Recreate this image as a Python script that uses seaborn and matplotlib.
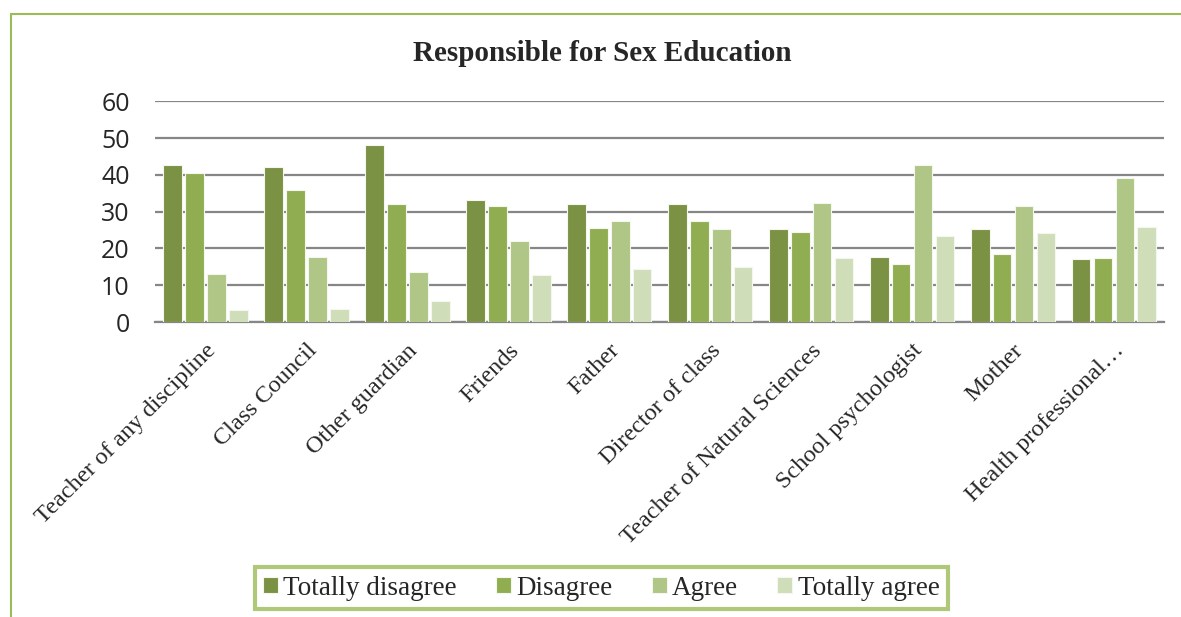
import matplotlib
matplotlib.use("Agg")
import matplotlib.pyplot as plt
from matplotlib.lines import Line2D
import seaborn as sns
import pandas as pd

categories = ["Teacher of any discipline", "Class Council", "Other guardian", "Friends",
              "Father", "Director of class", "Teacher of Natural Sciences",
              "School psychologist", "Mother", "Health professional\u2026"]
series = ["Totally disagree", "Disagree", "Agree", "Totally agree"]
totally_disagree = [42.7, 42.2, 48.1, 33.1, 32.1, 32.1, 25.3, 17.8, 25.3, 17.0]
disagree = [40.5, 35.9, 32.1, 31.6, 25.6, 27.4, 24.6, 15.7, 18.5, 17.5]
agree = [13.0, 17.8, 13.7, 22.1, 27.4, 25.2, 32.4, 42.7, 31.6, 39.2]
totally_agree = [3.4, 3.6, 5.6, 12.7, 14.5, 14.9, 17.3, 23.3, 24.1, 25.8]
yticks = [0, 10, 20, 30, 40, 50, 60]
colors = ["#7b9143", "#90ad52", "#afc686", "#d0ddb9"]

values = [totally_disagree, disagree, agree, totally_agree]
rows = []
for s, vals in zip(series, values):
    for c, v in zip(categories, vals):
        rows.append({"Category": c, "Series": s, "Value": v})
df = pd.DataFrame(rows)

sns.set_style("white")
fig = plt.figure(figsize=(11.81, 6.17), dpi=100)
ax = fig.add_axes([0.131, 0.478, 0.855, 0.358])

sns.barplot(data=df, x="Category", y="Value", hue="Series", order=categories,
            hue_order=series, palette=colors, saturation=1, width=0.87, gap=0.14,
            edgecolor="#f4f7ee", linewidth=0.8, ax=ax, legend=True, zorder=3)

ax.set_ylim(0, 60)
ax.set_yticks(yticks)
ax.set_yticklabels([str(t) for t in yticks], fontsize=18, family="Open Sans")
ax.yaxis.grid(True, color="#868686", linewidth=1.6, zorder=0)
ax.set_axisbelow(True)
for side in ["left", "right", "top"]:
    ax.spines[side].set_visible(False)
ax.spines["bottom"].set_color("#868686")
ax.spines["bottom"].set_linewidth(1.6)
ax.tick_params(axis="y", length=0, pad=18)
ax.tick_params(axis="x", length=0, pad=13)
ax.set_xlim(-0.5, len(categories) - 0.5)
ax.set_xticks(range(len(categories)))
ax.set_xticklabels(categories, rotation=45, ha="right", rotation_mode="anchor",
                   fontsize=17.5, family="Liberation Serif")
ax.set_xlabel("")
ax.set_ylabel("")

fig.text(0.51, 0.914, "Responsible for Sex Education", ha="center", va="center",
         fontsize=21, fontweight="bold", family="Liberation Serif")

h, l = ax.get_legend_handles_labels()
ax.legend_.remove()
leg = fig.legend(h, l, loc="center", bbox_to_anchor=(0.509, 0.047), ncol=4,
                 frameon=True, fancybox=False, prop={"family": "Liberation Serif", "size": 19.5},
                 handlelength=0.55, handleheight=0.55, handletextpad=0.2, columnspacing=1.45,
                 borderpad=0.3, borderaxespad=0)
leg.get_frame().set_edgecolor("#9bbb59")
leg.get_frame().set_linewidth(3)

# outer chart border (green), top and left visible
fig.add_artist(Line2D([11 / 1181, 1.0], [1 - 14 / 617, 1 - 14 / 617],
                      transform=fig.transFigure, color="#9bbb59", linewidth=1.5))
fig.add_artist(Line2D([11 / 1181, 11 / 1181], [0.0, 1 - 14 / 617],
                      transform=fig.transFigure, color="#9bbb59", linewidth=1.5))

fig.savefig("out.png", dpi=100)
